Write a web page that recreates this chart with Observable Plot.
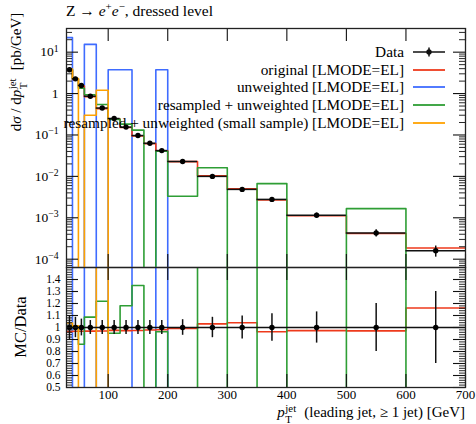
<!DOCTYPE html>
<html><head><meta charset="utf-8">
<script src="https://cdn.jsdelivr.net/npm/d3@7"></script>
<script src="https://cdn.jsdelivr.net/npm/@observablehq/plot@0.6"></script>
<style>
body{margin:0;background:#fff;}
#wrap{position:relative;width:476px;height:424px;overflow:hidden;font-family:"Liberation Serif","Times New Roman","DejaVu Serif",serif;color:#000;}
#wrap svg{position:absolute;left:0;background:transparent;overflow:visible;}
.abs{position:absolute;white-space:nowrap;}
.stack{display:inline-block;position:relative;width:1.05em;height:1em;vertical-align:baseline;}
.stack .sp{position:absolute;left:0.05em;top:0.1em;font-size:0.72em;line-height:1;}
.stack .sb{position:absolute;left:0.05em;top:1.14em;font-size:0.72em;line-height:1;}
#legend{position:absolute;right:31px;top:43px;font-size:15.3px;}
#legend .row{height:17.7px;display:flex;justify-content:flex-end;align-items:center;}
#legend svg{position:static;margin-left:9px;}
</style></head><body><div id="wrap"></div>
<script>
// ---- data ----
const binLo = [30,40,50,60,80,100,120,140,160,180,200,250,300,350,400,500,600];
const binHi = [40,50,60,80,100,120,140,160,180,200,250,300,350,400,500,600,700];
const dataVals = [3.76,2.27,1.57,0.865,0.447,0.25,0.155,0.097,0.063,0.042,0.0229,0.0100,0.00485,0.00278,0.00115,0.00043,0.00016];
const dataRelErr = [0.10,0.085,0.07,0.058,0.058,0.058,0.058,0.058,0.058,0.058,0.065,0.085,0.096,0.115,0.13,0.20,0.30];
const original = [3.63,2.20,1.52,0.839,0.434,0.244,0.151,0.0946,0.0617,0.0412,0.0227,0.0103,0.00504,0.00268,0.00112,0.000418,0.000186];
const unweighted = [22.5,0,0,15.4,0,3.76,3.76,0,0,3.76,0,0,0,0,0,0,0];
const resampled = [3.8,2.27,1.35,0.94,0.545,0.238,0.183,0.131,0,0.0405,0.0033,0.0162,0,0.0067,0,0.00166,0];
const resampledSmall = [3.9,2.3,0,0.3,1.2,0,0,0,0,0,0,0,0,0,0,0,0];

const seriesNames = ["original [LMODE=EL]","unweighted [LMODE=EL]","resampled + unweighted [LMODE=EL]","resampled + unweighted (small sample) [LMODE=EL]"];
const seriesColors = ["#ee3a1c","#3f6cff","#2e9e35","#ffa200"];
const seriesVals = [original, unweighted, resampled, resampledSmall];
const drawOrder = [1,0,2,3];

const xTicks = [100,200,300,400,500,600,700];
const yMajor = [10,1,0.1,0.01,0.001,0.0001];
const yMajorLabels = ["10^1","1","10^-1","10^-2","10^-3","10^-4"];
const ratioTicks = [0.5,0.6,0.7,0.8,0.9,1,1.1,1.2,1.3,1.4];
const ratioLabels = ["0.5","0.6","0.7","0.8","0.9","1","1.1","1.2","1.3","1.4"];

// ---- layout ----
const W = 476, ML = 66, MR = 11;
const FW = W - ML - MR;
const FONT = '"Liberation Serif","Times New Roman","DejaVu Serif",serif';
const MAIN_DOMAIN = [6.3e-5, 37.3];
const yMinor = [];
for (let e = -5; e <= 1; e++) for (let m = 2; m <= 9; m++) {
  const v = m * Math.pow(10, e);
  if (v > MAIN_DOMAIN[0] && v < MAIN_DOMAIN[1]) yMinor.push(v);
}
const rMinor = d3.range(50).map(i => +(0.52 + i*0.02).toFixed(2)).filter(v => v < 1.5 && Math.abs(v*10 - Math.round(v*10)) > 1e-6);

const idx = d3.range(binLo.length);
const center = i => (binLo[i] + binHi[i]) / 2;
function stepPts(vals) {
  const pts = [];
  vals.forEach((v, i) => { pts.push({x: binLo[i], y: v}, {x: binHi[i], y: v}); });
  return pts;
}
const mainPts = vals => stepPts(vals.map(v => v > 0 ? v : 1e-12));
const ratioPts = vals => stepPts(vals.map((v, i) => v / dataVals[i]));

function frameTicks(yMaj, yMin, fh) {
  const s = {stroke: "#111", strokeWidth: 0.9};
  return [
    Plot.tickY(yMin, {...s, insetRight: FW - 6}),
    Plot.tickY(yMin, {...s, insetLeft: FW - 6}),
    Plot.tickY(yMaj, {...s, strokeWidth: 1.1, insetRight: FW - 12}),
    Plot.tickY(yMaj, {...s, strokeWidth: 1.1, insetLeft: FW - 12}),
    Plot.tickX(xTicks, {...s, strokeWidth: 1.1, insetTop: fh - 13}),
    Plot.tickX(xTicks, {...s, strokeWidth: 1.1, insetBottom: fh - 13}),
  ];
}

const wrap = document.getElementById("wrap");

// ---- main panel ----
const mainTop = 28, mainBottom = 267;
const main = Plot.plot({
  width: W, height: mainBottom + 1, marginTop: mainTop, marginBottom: 1, marginLeft: ML, marginRight: MR,
  style: {fontFamily: FONT, fontSize: "13.5px", background: "transparent", color: "#000"},
  x: {domain: [30, 700], axis: null},
  y: {type: "log", domain: MAIN_DOMAIN},
  marks: [
    ...drawOrder.map(k => Plot.line(mainPts(seriesVals[k]), {x: "x", y: "y", stroke: seriesColors[k], strokeWidth: 1.6, clip: true})),
    Plot.ruleY(idx, {x1: i => binLo[i], x2: i => binHi[i], y: i => dataVals[i], stroke: "#111", strokeWidth: 1.5}),
    Plot.ruleX(idx, {x: center, y1: i => dataVals[i] * (1 - dataRelErr[i]), y2: i => dataVals[i] * (1 + dataRelErr[i]), stroke: "#111", strokeWidth: 1.5}),
    Plot.dot(idx, {x: center, y: i => dataVals[i], r: 2.7, fill: "#000", stroke: "none"}),
    ...frameTicks(yMajor, yMinor, mainBottom - mainTop),
    Plot.axisY(yMajor, {tickSize: 0, tickPadding: 8, label: null, tickFormat: d => yMajorLabels[yMajor.indexOf(d)]}),
    Plot.frame({stroke: "#222", strokeWidth: 1.3})
  ]
});
main.style.top = "0px";
main.querySelectorAll('[aria-label="y-axis tick label"] text').forEach(t => {
  const s = t.textContent;
  if (s.includes("^")) {
    const [b, e] = s.split("^");
    t.textContent = b;
    const ts = document.createElementNS("http://www.w3.org/2000/svg", "tspan");
    ts.setAttribute("dy", "-0.5em");
    ts.setAttribute("font-size", "0.72em");
    ts.textContent = e.replace("-", "\u2212");
    t.appendChild(ts);
  }
});

// ---- ratio panel ----
const rTop = 266, rHeight = 158;
const ratio = Plot.plot({
  width: W, height: rHeight, marginTop: 1, marginBottom: 37, marginLeft: ML, marginRight: MR,
  style: {fontFamily: FONT, fontSize: "13px", background: "transparent", color: "#000"},
  x: {domain: [30, 700]},
  y: {domain: [0.5, 1.5]},
  marks: [
    ...drawOrder.map(k => Plot.line(ratioPts(seriesVals[k]), {x: "x", y: "y", stroke: seriesColors[k], strokeWidth: 1.6, clip: true})),
    Plot.ruleY([1], {stroke: "#111", strokeWidth: 1.6}),
    Plot.ruleX(idx, {x: center, y1: i => 1 - dataRelErr[i], y2: i => 1 + dataRelErr[i], stroke: "#111", strokeWidth: 1.5, clip: true}),
    Plot.dot(idx, {x: center, y: () => 1, r: 2.7, fill: "#000", stroke: "none"}),
    ...frameTicks(ratioTicks, rMinor, rHeight - 38),
    Plot.axisX(xTicks, {tickSize: 0, tickPadding: 2, label: null, tickFormat: d => String(d)}),
    Plot.axisY(ratioTicks, {tickSize: 0, tickPadding: 6, label: null, fontSize: 11.5, tickFormat: d => ratioLabels[ratioTicks.indexOf(d)]}),
    Plot.frame({stroke: "#222", strokeWidth: 1.3})
  ]
});
ratio.style.top = rTop + "px";
wrap.appendChild(ratio);
wrap.appendChild(main);

// ---- texts ----
function addDiv(html, css) {
  const d = document.createElement("div");
  d.className = "abs";
  d.innerHTML = html;
  Object.assign(d.style, css);
  wrap.appendChild(d);
  return d;
}
addDiv('Z \u2192 <i>e</i><sup style="font-size:0.7em;line-height:0">+</sup><i>e</i><sup style="font-size:0.7em;line-height:0">\u2212</sup>, dressed level',
  {left: "66px", top: "2px", fontSize: "15.5px", lineHeight: "18px"});
const pt = '<i>p</i><span class="stack"><span class="sp">jet</span><span class="sb">T</span></span>';
addDiv('d<i>\u03c3</i> / d' + pt + ' [pb/GeV]',
  {left: "15px", top: "72px", fontSize: "15px", lineHeight: "18px", transform: "translate(-50%,-50%) rotate(-90deg)"});
addDiv('MC/Data',
  {left: "21px", top: "327px", fontSize: "16.5px", lineHeight: "18px", transform: "translate(-50%,-50%) rotate(-90deg)"});
addDiv(pt + ' (leading jet, \u2265 1 jet) [GeV]',
  {right: "11px", top: "401.6px", fontSize: "15px", lineHeight: "15px"});

// ---- legend ----
const legend = document.createElement("div");
legend.id = "legend";
function row(label, color, isData) {
  const r = document.createElement("div");
  r.className = "row";
  const sp = document.createElement("span");
  sp.textContent = label;
  r.appendChild(sp);
  const s = d3.create("svg").attr("width", 32).attr("height", 12);
  s.append("line").attr("x1", 0).attr("x2", 32).attr("y1", 6).attr("y2", 6).attr("stroke", color).attr("stroke-width", isData ? 1.5 : 1.8);
  if (isData) {
    s.append("line").attr("x1", 16).attr("x2", 16).attr("y1", 1.5).attr("y2", 10.5).attr("stroke", color).attr("stroke-width", 1.5);
    s.append("circle").attr("cx", 16).attr("cy", 6).attr("r", 2.7).attr("fill", color);
  }
  r.appendChild(s.node());
  legend.appendChild(r);
}
row("Data", "#111", true);
seriesNames.forEach((n, k) => row(n, seriesColors[k], false));
wrap.appendChild(legend);
</script></body></html>
